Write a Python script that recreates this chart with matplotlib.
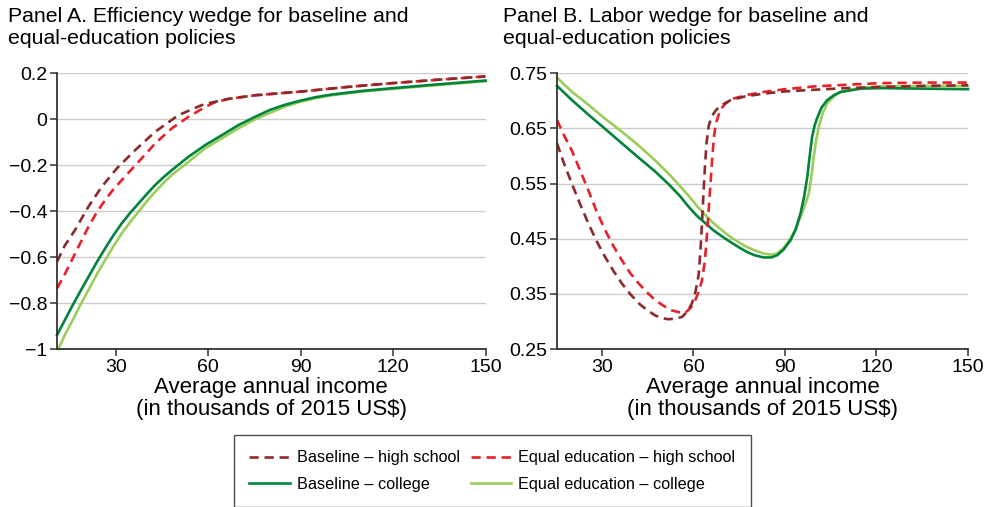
import matplotlib.pyplot as plt

plt.rcParams['font.family'] = ['Liberation Sans', 'DejaVu Sans']

# Panel A: efficiency wedge (x = average annual income, thousands of 2015 US$)
xa_base_hs = [11, 13.5, 16.8, 21.2, 25.5, 30.4, 36.3, 42.8, 50.3, 57.9, 62, 66.5, 75.2, 90, 105, 120, 135, 150]
ya_base_hs = [-0.62, -0.55, -0.483, -0.38, -0.294, -0.214, -0.135, -0.055, 0.017, 0.061, 0.075, 0.088,
              0.104, 0.12, 0.14, 0.157, 0.172, 0.186]
xa_eq_hs = [11, 13.5, 15.8, 18.5, 21.2, 23.9, 26.6, 29.3, 32, 37.4, 42.8, 48.2, 53.6, 59, 62, 66.5, 75.2,
            90, 105, 120, 135, 150]
ya_eq_hs = [-0.736, -0.675, -0.613, -0.54, -0.468, -0.405, -0.352, -0.305, -0.265, -0.186, -0.106, -0.04,
            0.01, 0.053, 0.072, 0.088, 0.104, 0.12, 0.14, 0.157, 0.172, 0.186]
xa_base_col = [11, 13.5, 15.8, 18.5, 21.2, 23.9, 26.6, 29.3, 32, 34.7, 37.4, 40.1, 42.8, 45.5, 48.2, 53.6,
               59, 64.4, 69.8, 75.2, 80, 85, 90, 95, 100, 110, 120, 135, 150]
ya_base_col = [-0.939, -0.875, -0.816, -0.75, -0.686, -0.622, -0.562, -0.505, -0.453, -0.408, -0.367,
               -0.326, -0.287, -0.253, -0.222, -0.164, -0.113, -0.07, -0.026, 0.01, 0.04, 0.063, 0.081,
               0.096, 0.107, 0.123, 0.135, 0.152, 0.168]
xa_eq_col = [11.4, 13.5, 15.8, 18.5, 21.2, 23.9, 26.6, 29.3, 32, 34.7, 37.4, 40.1, 42.8, 45.5, 48.2, 53.6,
             59, 64.4, 69.8, 75.2, 80, 85, 90, 95, 100, 110, 120, 135, 150]
ya_eq_col = [-1.0, -0.94, -0.881, -0.81, -0.743, -0.675, -0.613, -0.553, -0.497, -0.448, -0.403, -0.358,
             -0.316, -0.278, -0.243, -0.186, -0.127, -0.084, -0.04, -0.001, 0.027, 0.055, 0.076, 0.092,
             0.104, 0.12, 0.132, 0.149, 0.165]

# Panel B: labor wedge
xb_base_hs = [15.25, 17.5, 20.1, 22.8, 25.5, 28.2, 31, 33.7, 36.5, 39.2, 42, 44.7, 47.4, 49.6, 51.8, 54,
              56.2, 58, 59.5, 60.7, 61.7, 62.3, 62.8, 63.3, 63.8, 64.3, 65, 66, 67.5, 69.5, 72.1, 77, 83,
              90, 99.4, 110, 121.3, 135, 150]
yb_base_hs = [0.623, 0.587, 0.55, 0.513, 0.478, 0.446, 0.417, 0.392, 0.369, 0.35, 0.333, 0.321, 0.311,
              0.306, 0.304, 0.305, 0.308, 0.318, 0.333, 0.355, 0.385, 0.43, 0.48, 0.535, 0.585, 0.625,
              0.655, 0.672, 0.684, 0.693, 0.701, 0.708, 0.713, 0.717, 0.72, 0.723, 0.725, 0.727, 0.728]
xb_eq_hs = [15.25, 17.5, 20.1, 22.8, 25.5, 28.2, 31, 33.7, 36.5, 39.2, 42, 44.7, 47.4, 50, 52.9, 55, 57.3,
            59, 60.6, 61.8, 62.8, 63.6, 64.2, 64.7, 65.2, 65.7, 66.2, 66.7, 67.4, 68.8, 70.5, 73, 78, 83,
            90, 99.4, 110, 121.3, 135, 150]
yb_eq_hs = [0.665, 0.638, 0.61, 0.574, 0.538, 0.5, 0.466, 0.437, 0.411, 0.388, 0.369, 0.353, 0.339, 0.329,
            0.32, 0.317, 0.316, 0.324, 0.339, 0.355, 0.375, 0.405, 0.44, 0.48, 0.52, 0.56, 0.60, 0.635,
            0.66, 0.684, 0.695, 0.704, 0.711, 0.716, 0.721, 0.726, 0.729, 0.732, 0.733, 0.733]
xb_base_col = [15.25, 20, 25.5, 30, 36.5, 42, 47.4, 52, 55.6, 58.4, 61, 63.9, 66.6, 69.4, 72.1, 75, 77.5,
               80, 83, 85.5, 87.4, 89.5, 91.8, 93.5, 95.1, 96.3, 97.3, 98.1, 98.9, 99.7, 100.5, 102, 103.8,
               106, 108.2, 114.8, 121.3, 135, 150]
yb_base_col = [0.727, 0.702, 0.675, 0.654, 0.623, 0.597, 0.572, 0.548, 0.527, 0.508, 0.492, 0.478, 0.465,
               0.454, 0.444, 0.434, 0.426, 0.42, 0.416, 0.416, 0.42, 0.43, 0.447, 0.467, 0.496, 0.527,
               0.562, 0.60, 0.635, 0.655, 0.668, 0.688, 0.701, 0.71, 0.716, 0.722, 0.723, 0.722, 0.721]
xb_eq_col = [15.25, 20, 25.5, 30, 36.5, 42, 47.4, 52, 55.6, 58.4, 61, 63.9, 66.6, 69.4, 72.1, 75, 77.5, 80,
             83, 85.5, 87.4, 89.5, 91.8, 93.5, 95.1, 96.5, 97.8, 98.6, 99.4, 100.2, 101.1, 102.4, 103.8,
             106, 108.2, 114.8, 121.3, 135, 150]
yb_eq_col = [0.742, 0.717, 0.693, 0.672, 0.644, 0.619, 0.592, 0.567, 0.545, 0.528, 0.51, 0.493, 0.478,
             0.465, 0.453, 0.443, 0.435, 0.429, 0.423, 0.421, 0.423, 0.433, 0.45, 0.467, 0.49, 0.51, 0.532,
             0.56, 0.598, 0.628, 0.653, 0.678, 0.695, 0.708, 0.716, 0.724, 0.726, 0.727, 0.727]

labels = ['Baseline \u2013 high school', 'Equal education \u2013 high school',
          'Baseline \u2013 college', 'Equal education \u2013 college']
colors = ['#8b2a2a', '#e8202a', '#00843d', '#9acd5a']
dashed = [True, True, False, False]

fig = plt.figure(figsize=(9.92, 5.07), dpi=100)
axA = fig.add_axes([0.0575, 0.3116, 0.432, 0.544])
axB = fig.add_axes([0.5615, 0.3116, 0.4143, 0.544])


def style(ax, xmin, ylim, yticks, ylabels):
    ax.set_xlim(xmin, 150)
    ax.set_ylim(*ylim)
    ax.set_xticks([30, 60, 90, 120, 150])
    ax.set_yticks(yticks)
    ax.set_yticklabels(ylabels)
    ax.grid(axis='y', color='#cccccc', lw=1)
    ax.set_axisbelow(True)
    for s in ['top', 'right']:
        ax.spines[s].set_visible(False)
    for s in ['left', 'bottom']:
        ax.spines[s].set_color('#333333')
        ax.spines[s].set_linewidth(1.3)
    ax.tick_params(labelsize=14, length=5, width=1.1, color='#333333', pad=2)
    ax.set_xlabel('Average annual income\n(in thousands of 2015 US$)', fontsize=16, labelpad=1,
                  linespacing=1.05)


handles = []
for ax, series in [(axA, [(xa_base_hs, ya_base_hs), (xa_eq_hs, ya_eq_hs),
                          (xa_base_col, ya_base_col), (xa_eq_col, ya_eq_col)]),
                   (axB, [(xb_base_hs, yb_base_hs), (xb_eq_hs, yb_eq_hs),
                          (xb_base_col, yb_base_col), (xb_eq_col, yb_eq_col)])]:
    handles = []
    for i in [3, 2, 1, 0]:
        x, y = series[i]
        kw = dict(dashes=(3.5, 2.2)) if dashed[i] else {}
        ln, = ax.plot(x, y, color=colors[i], lw=1.9, label=labels[i], clip_on=False,
                      solid_joinstyle='round', **kw)
        handles.append(ln)
    handles = handles[::-1]

style(axA, 11, (-1, 0.2), [-1, -0.8, -0.6, -0.4, -0.2, 0, 0.2],
      ['\u22121', '\u22120.8', '\u22120.6', '\u22120.4', '\u22120.2', '0', '0.2'])
style(axB, 15.25, (0.25, 0.75), [0.25, 0.35, 0.45, 0.55, 0.65, 0.75],
      ['0.25', '0.35', '0.45', '0.55', '0.65', '0.75'])

fig.text(8 / 992, 1 - 7 / 507, 'Panel A. Efficiency wedge for baseline and\nequal-education policies',
         fontsize=15.3, va='top', ha='left', linespacing=1.2)
fig.text(503 / 992, 1 - 7 / 507, 'Panel B. Labor wedge for baseline and\nequal-education policies',
         fontsize=15.3, va='top', ha='left', linespacing=1.2)

# legend: column 1 = baseline, column 2 = equal education
order = [0, 2, 1, 3]
leg = fig.legend([handles[i] for i in order], [labels[i] for i in order], ncol=2, loc='upper left',
                 bbox_to_anchor=(234 / 992, 1 - 435 / 507, (751 - 234) / 992, 0.0), mode='expand',
                 borderaxespad=0, fontsize=11.7, frameon=True, fancybox=False, handlelength=2.5,
                 handletextpad=0.45, borderpad=0.95, labelspacing=0.7, columnspacing=1.5)
leg.get_frame().set_edgecolor('#222222')
leg.get_frame().set_linewidth(1.0)

fig.savefig('out.png', dpi=100)
